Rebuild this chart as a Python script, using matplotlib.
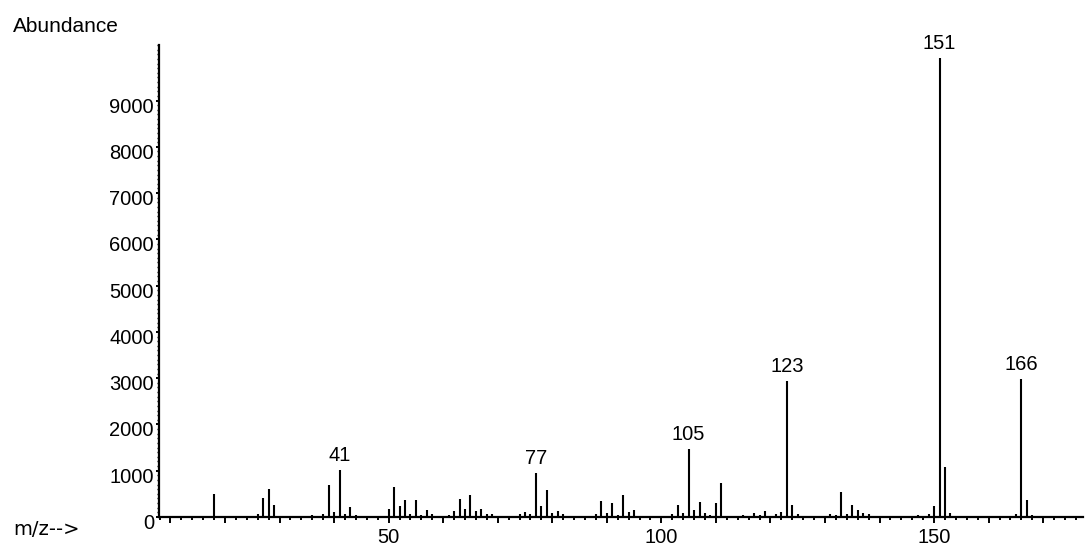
import matplotlib
matplotlib.use("Agg")
import matplotlib.pyplot as plt
import matplotlib.transforms as mtransforms
from matplotlib.ticker import FixedLocator, MultipleLocator

# ---- data ----
mz = [18, 26, 27, 28, 29, 36, 38, 39, 40, 41, 42, 43, 44, 45, 46, 48,
      50, 51, 52, 53, 54, 55, 56, 57, 58, 59, 60, 61, 62, 63, 64, 65, 66, 67, 68, 69, 70,
      72, 73, 74, 75, 76, 77, 78, 79, 80, 81, 82, 83, 86, 87, 88, 89, 90, 91, 92, 93, 94, 95, 96, 97,
      101, 102, 103, 104, 105, 106, 107, 108, 109, 110, 111, 112, 114, 115, 116, 117, 118, 119, 120,
      121, 122, 123, 124, 125, 128, 130, 131, 132, 133, 134, 135, 136, 137, 138, 140,
      147, 149, 150, 151, 152, 153, 165, 166, 167, 168]
abundance = [490, 65, 410, 600, 250, 35, 70, 700, 100, 1010, 75, 220, 35, 30, 20, 20,
             180, 650, 240, 365, 55, 365, 35, 150, 55, 30, 30, 35, 135, 380, 170, 480, 125, 180, 60, 60, 25,
             20, 30, 70, 110, 55, 960, 240, 580, 80, 135, 55, 20, 20, 30, 65, 340, 85, 310, 45, 480, 110, 150, 25, 20,
             30, 70, 265, 85, 1470, 150, 320, 80, 45, 310, 725, 30, 20, 50, 30, 90, 50, 120, 25,
             55, 110, 2940, 260, 60, 20, 20, 75, 35, 540, 75, 260, 145, 90, 60, 20,
             35, 75, 230, 9920, 1070, 90, 60, 2980, 360, 35]
labeled_peaks = [41, 77, 105, 123, 151, 166]
y_ticks = [0, 1000, 2000, 3000, 4000, 5000, 6000, 7000, 8000, 9000]
x_label_ticks = [50, 100, 150]

FONT = "Liberation Sans"
FS = 14.5

fig = plt.figure(figsize=(10.85, 5.49), dpi=100)
ax = fig.add_axes([159 / 1085, 1 - 517 / 549, (1083 - 159) / 1085, (517 - 45) / 549])

ax.vlines(mz, 0, abundance, color="black", linewidth=1.5)

ax.set_xlim(7.9, 177.3)
ax.set_ylim(0, 10200)

for s in ["top", "right"]:
    ax.spines[s].set_visible(False)
for s in ["left", "bottom"]:
    ax.spines[s].set_linewidth(1.6)
    ax.spines[s].set_color("black")

# x ticks: major every 10 (labels only at 50s), minor every 2
major_x = list(range(10, 178, 10))
ax.xaxis.set_major_locator(FixedLocator(major_x))
ax.set_xticklabels([str(v) if v in x_label_ticks else "" for v in major_x],
                   fontfamily=FONT, fontsize=FS)
ax.xaxis.set_minor_locator(MultipleLocator(2))
ax.tick_params(axis="x", which="major", direction="out", length=4.3, width=1.4, pad=3.5)
ax.tick_params(axis="x", which="minor", direction="out", length=2.3, width=1.4)

# y ticks
ax.yaxis.set_major_locator(FixedLocator(y_ticks))
ax.set_yticklabels([str(v) for v in y_ticks], fontfamily=FONT, fontsize=FS)
ax.yaxis.set_minor_locator(MultipleLocator(100))
ax.tick_params(axis="y", which="major", direction="out", length=2.2, width=1.4, pad=1.4)
ax.tick_params(axis="y", which="minor", direction="out", length=1.2, width=1.0)
shift_up = mtransforms.ScaledTranslation(0, 3 / 100, fig.dpi_scale_trans)
for lbl in ax.get_yticklabels():
    lbl.set_verticalalignment("top")
    lbl.set_transform(lbl.get_transform() + shift_up)

# peak labels
for p in labeled_peaks:
    h = abundance[mz.index(p)]
    ax.annotate(str(p), xy=(p, h), xytext=(0, 5), textcoords="offset pixels",
                ha="center", va="bottom", fontfamily=FONT, fontsize=FS)

fig.text(13 / 1085, 1 - 32 / 549, "Abundance", ha="left", va="baseline",
         fontfamily=FONT, fontsize=FS + 0.5)
fig.text(13 / 1085, 1 - 535 / 549, "m/z-->", ha="left", va="baseline",
         fontfamily="DejaVu Sans", fontsize=14)

fig.savefig("out.png", dpi=100)
